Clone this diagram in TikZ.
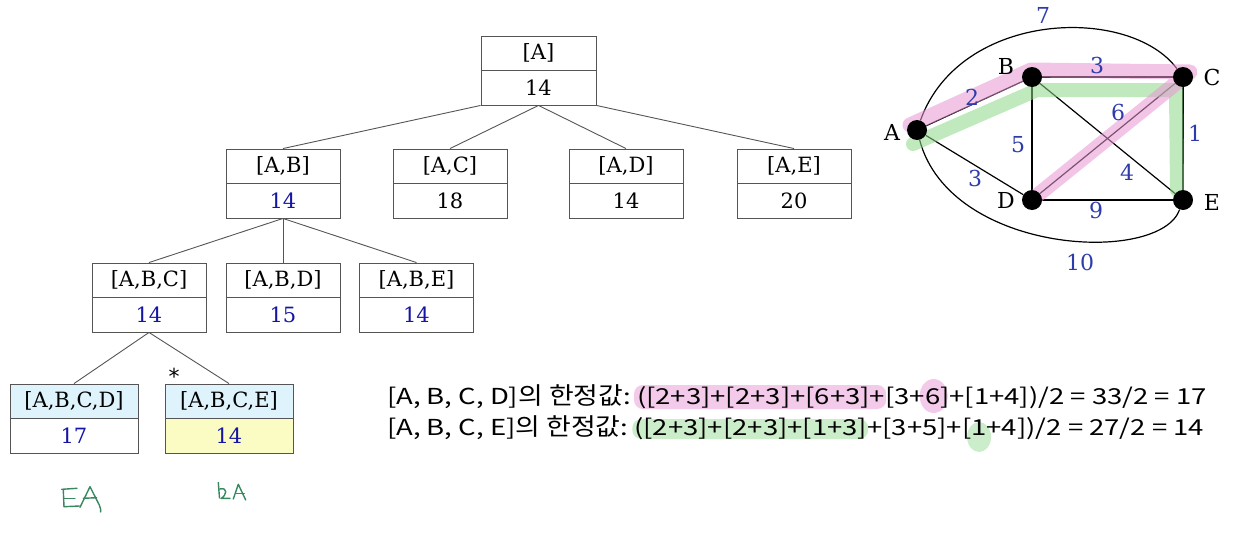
\documentclass[tikz,border=0pt]{standalone}
\usepackage{fontspec}
\setmainfont{DejaVu Serif}
\newfontfamily\kr[FakeStretch=1.12]{Noto Sans CJK KR}
\newfontfamily\krl[FakeStretch=1.25]{Noto Sans CJK KR}
\newfontfamily\dvs{DejaVu Sans}
\usetikzlibrary{calc,backgrounds}
\definecolor{valblue}{RGB}{20,20,165}
\definecolor{wblue}{RGB}{45,60,170}
\definecolor{hdrblue}{RGB}{222,243,251}
\definecolor{valyellow}{RGB}{250,252,195}
\definecolor{boxline}{RGB}{85,85,85}
\definecolor{hlpink}{RGB}{232,150,212}
\definecolor{hlgreen}{RGB}{140,215,135}
\definecolor{hand}{RGB}{55,135,95}
\pgfdeclarelayer{edges}
\pgfdeclarelayer{hl}
\pgfsetlayers{background,edges,hl,main}
\tikzset{
  cell/.style={draw=boxline, line width=0.9pt, inner sep=0pt, minimum height=34.5pt, font=\fontsize{21}{21}\selectfont},
  tedge/.style={draw=boxline, line width=0.9pt},
  gdot/.style={circle, fill=black, inner sep=0pt, minimum size=20pt},
  gedge/.style={line width=1.2pt, black},
  vlabel/.style={font=\fontsize{22}{22}\selectfont},
  wlabel/.style={text=wblue, font=\fontsize{22}{22}\selectfont},
  txt/.style={anchor=base west, inner sep=0pt, outer sep=0pt, font=\krl\fontsize{22}{22}\selectfont},
  pinkhl/.style={fill=hlpink, fill opacity=0.5},
  greenhl/.style={fill=hlgreen, fill opacity=0.45},
  pinkline/.style={draw=hlpink, draw opacity=0.55, line width=15pt, line cap=round, line join=round},
  greenline/.style={draw=hlgreen, draw opacity=0.55, line width=14pt, line cap=round, line join=round},
  handline/.style={draw=hand, line width=1.4pt, line cap=round, line join=round},
}
\newcommand\tbox[8]{%
  \node[cell, minimum width=#4pt, fill=#5] (#1h) at (#2,#3+17.25) {#6};
  \node[cell, minimum width=#4pt, fill=#7] (#1v) at (#2,#3+51.75) {#8};
}
\newcommand\hangul[1]{{\kr\fontsize{24}{24}\selectfont #1}}
\begin{document}
\begin{tikzpicture}[x=1pt,y=-1pt]
\useasboundingbox (0,0) rectangle (1254,536);

% ---------- tree ----------
\tbox{a}{538.5}{36}{115}{white}{[A]}{white}{14}
\tbox{ab}{283}{149}{114}{white}{[A,B]}{white}{\textcolor{valblue}{14}}
\tbox{ac}{450}{149}{114}{white}{[A,C]}{white}{18}
\tbox{ad}{626}{149}{114}{white}{[A,D]}{white}{14}
\tbox{ae}{794}{149}{114}{white}{[A,E]}{white}{20}
\tbox{abc}{149}{263}{114}{white}{[A,B,C]}{white}{\textcolor{valblue}{14}}
\tbox{abd}{283}{263}{114}{white}{[A,B,D]}{white}{\textcolor{valblue}{15}}
\tbox{abe}{416.5}{263}{114}{white}{[A,B,E]}{white}{\textcolor{valblue}{14}}
\tbox{abcd}{74}{384}{128}{hdrblue}{[A,B,C,D]}{white}{\textcolor{valblue}{17}}
\tbox{abce}{229}{384}{128}{hdrblue}{[A,B,C,E]}{valyellow}{\textcolor{valblue}{14}}

\draw[tedge] (av.south west) -- (abh.north);
\draw[tedge] (av.south) -- (ach.north);
\draw[tedge] (av.south) -- (adh.north);
\draw[tedge] (av.south east) -- (aeh.north);
\draw[tedge] (abv.south) -- (abch.north);
\draw[tedge] (abv.south) -- (abdh.north);
\draw[tedge] (abv.south) -- (abeh.north);
\draw[tedge] (abcv.south) -- (abcdh.north);
\draw[tedge] (abcv.south) -- (abceh.north);

\node[font=\dvs\fontsize{22}{22}\selectfont, inner sep=0pt] (star) at (174,376) {*};

% ---------- handwriting ----------
\draw[handline] (61.7,489.3) -- (77,488.3);
\draw[handline] (63.3,490) -- (64,506.7);
\draw[handline] (64,498.3) -- (75,498.3);
\draw[handline] (64,506.7) -- (79.3,506);
\draw[handline] (80,507.3) -- (90,486.7) -- (99.3,505) .. controls (100.5,508) and (101,510) .. (100.7,512);
\draw[handline] (83.3,498.3) -- (96.7,497.7);
\draw[handline] (218.3,482.5) -- (219.5,498);
\draw[handline] (219.7,489) .. controls (228,487) and (227,495) .. (221,498.5) -- (230,498.3);
\draw[handline] (233.3,499) -- (238.3,484.3) -- (245.7,500);
\draw[handline] (235.7,493.3) -- (244.3,493.3);

% ---------- graph ----------
\node[gdot] (A) at (917,130) {};
\node[gdot] (B) at (1032,77) {};
\node[gdot] (C) at (1183,77) {};
\node[gdot] (D) at (1032,200) {};
\node[gdot] (E) at (1183,200) {};
\node[vlabel] (lA) at (892,132) {A};
\node[vlabel] (lB) at (1006,66) {B};
\node[vlabel] (lC) at (1212,77) {C};
\node[vlabel] (lD) at (1006,200) {D};
\node[vlabel] (lE) at (1212,202) {E};

\begin{pgfonlayer}{edges}
\draw[gedge] (A) -- (B);
\draw[gedge] (B) -- (C);
\draw[gedge] (A) -- (D);
\draw[gedge] (B) -- (D);
\draw[gedge] (B) -- (E);
\draw[gedge] (C) -- (D);
\draw[gedge] (C) -- (E);
\draw[gedge] (D) -- (E);
\draw[gedge] (A) .. controls (960,10) and (1130,5) .. (C);
\draw[gedge] (A) .. controls (950,255) and (1160,265) .. (E);
\end{pgfonlayer}

\begin{pgfonlayer}{hl}
\draw[greenline] (913,144) -- (1037,90) -- (1176,90) -- (1177,190);
\draw[pinkline] (910,125) -- (1031,70) -- (1190,72) -- (1034,198);
\end{pgfonlayer}

\node[wlabel] (w7) at (1043,15) {7};
\node[wlabel] (w3a) at (1097,65) {3};
\node[wlabel] (w2) at (972,97) {2};
\node[wlabel] (w6) at (1118,112) {6};
\node[wlabel] (w1) at (1195,133) {1};
\node[wlabel] (w5) at (1018,145) {5};
\node[wlabel] (w3b) at (975,178) {3};
\node[wlabel] (w4) at (1127,172) {4};
\node[wlabel] (w9) at (1096,210) {9};
\node[wlabel] (w10) at (1080,262) {10};

% ---------- formulas ----------
\node[txt] (s1) at (387,404) {[A, B, C, D]\hangul{의 한정값}:\ \null};
\node[txt] (s2) at (s1.base east) {([2+3]+[2+3]+[6+3]+};
\node[txt] (s3) at (s2.base east) {[3+};
\node[txt] (s4) at (s3.base east) {6};
\node[txt] (s5) at (s4.base east) {]+[1+4])/2 = 33/2 = 17};

\node[txt] (t1) at (387,435) {[A, B, C, E]\hangul{의 한정값}:\ \null};
\node[txt] (t2) at (t1.base east) {([2+3]+[2+3]+[1+3]};
\node[txt] (t3) at (t2.base east) {+[3+5]+[};
\node[txt] (t4) at (t3.base east) {1};
\node[txt] (t5) at (t4.base east) {+4])/2 = 27/2 = 14};

\begin{pgfonlayer}{background}
\fill[pinkhl, rounded corners=9pt] ($(s2.base west)+(-3,-19)$) rectangle ($(s2.base east)+(1,5)$);
\fill[pinkhl] ($(s4.base)+(1,-8)$) ellipse [x radius=14, y radius=17];
\fill[greenhl, rounded corners=9pt] ($(t2.base west)+(-2,-16)$) rectangle ($(t2.base east)+(1,4)$);
\fill[greenhl] ($(t4.base)+(0,2)$) ellipse [x radius=12, y radius=15];
\end{pgfonlayer}
\end{tikzpicture}
\end{document}
